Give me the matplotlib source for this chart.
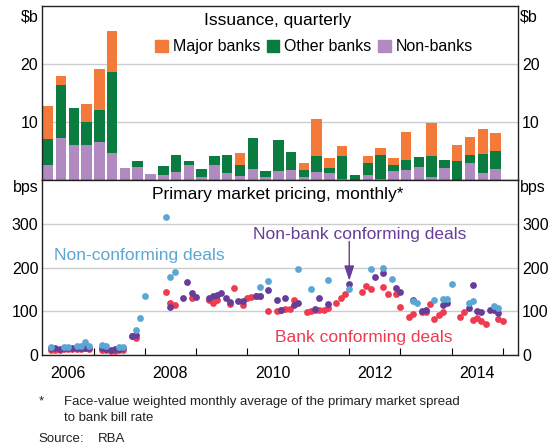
import numpy as np
import matplotlib
matplotlib.use("Agg")
from matplotlib import pyplot as plt
from matplotlib.patches import Patch

plt.rcParams["font.family"] = ["Liberation Sans", "DejaVu Sans"]

# Issuance, quarterly ($b), Q1 2006 .. Q4 2014
quarters = np.arange(36)
non_banks = [2.7, 7.2, 6.0, 6.0, 6.5, 4.7, 2.2, 2.3, 1.1, 1.0, 1.4, 2.6,
             0.6, 2.6, 1.2, 0.8, 2.0, 0.5, 1.6, 1.7, 0.5, 1.4, 1.2, 0.3,
             0.1, 1.0, 0.3, 1.65, 1.7, 2.3, 0.5, 2.1, 0.1, 3.0, 1.2, 1.9]
other_banks = [4.35, 9.1, 6.4, 4.0, 5.5, 13.9, 0, 1.0, 0, 1.5, 3.0, 0.8,
               1.3, 1.5, 3.1, 1.9, 5.2, 1.1, 5.4, 3.1, 1.2, 2.7, 1.0, 3.9,
               0.8, 1.9, 4.1, 0.95, 1.8, 1.7, 3.7, 1.4, 3.3, 1.3, 3.4, 3.2]
major_banks = [5.7, 1.6, 0, 3.2, 7.2, 7.1, 0, 0, 0, 0, 0, 0,
               0, 0, 0, 2.0, 0, 0, 0, 0, 1.2, 6.4, 1.6, 1.7,
               0, 1.3, 1.1, 1.2, 4.8, 0, 5.6, 0, 2.7, 3.1, 4.15, 3.0]

# Primary market pricing, monthly (bps)
nonconf_dates = ["2006-02", "2006-05", "2006-06", "2006-08", "2006-09", "2006-10",
                 "2006-11", "2007-02", "2007-03", "2007-06", "2007-07", "2007-10",
                 "2007-11", "2007-12", "2008-05", "2008-06", "2008-07", "2010-03",
                 "2010-05", "2010-12", "2011-03", "2011-07", "2011-12", "2012-05",
                 "2012-08", "2012-10", "2013-03", "2013-04", "2013-08", "2013-10",
                 "2013-11", "2013-12", "2014-04", "2014-05", "2014-10", "2014-11"]
nonconf_bps = [18, 19, 19, 21, 21, 30, 21, 23, 20, 18, 18, 57,
               84, 136, 316, 179, 190, 155, 169, 197, 151, 172, 150, 197,
               200, 174, 124, 118, 126, 128, 128, 162, 120, 124, 112, 107]

nonbank_dates = ["2006-02", "2006-03", "2006-04", "2006-05", "2006-06", "2006-07",
                 "2006-08", "2006-09", "2006-10", "2006-11", "2007-02", "2007-03",
                 "2007-04", "2007-05", "2007-06", "2007-07", "2007-09", "2007-10",
                 "2008-06", "2008-09", "2008-10", "2008-11", "2008-12", "2009-03",
                 "2009-04", "2009-05", "2009-06", "2009-07", "2009-08", "2009-10",
                 "2009-11", "2010-02", "2010-03", "2010-05", "2010-07", "2010-08",
                 "2010-09", "2010-11", "2010-12", "2011-04", "2011-05", "2011-07",
                 "2011-12", "2012-06", "2012-08", "2012-11", "2012-12", "2013-03",
                 "2013-05", "2013-06", "2013-10", "2013-11", "2014-04", "2014-05",
                 "2014-06", "2014-07", "2014-09", "2014-10", "2014-11"]
nonbank_bps = [15, 15, 14, 15, 16, 16, 17, 17, 17, 16, 15, 14,
               12, 13, 14, 15, 44, 45, 109, 130, 168, 142, 133, 131,
               135, 137, 143, 130, 122, 124, 124, 136, 136, 149, 125, 103,
               130, 114, 119, 105, 131, 116, 163, 178, 188, 154, 144, 126,
               101, 104, 114, 118, 108, 160, 101, 98, 104, 104, 95]

bank_dates = ["2006-02", "2006-03", "2006-04", "2006-05", "2006-06", "2006-07",
              "2006-08", "2006-09", "2006-10", "2006-11", "2007-02", "2007-03",
              "2007-04", "2007-05", "2007-06", "2007-07", "2007-09", "2007-10",
              "2008-05", "2008-06", "2008-07", "2008-11", "2009-03", "2009-04",
              "2009-05", "2009-08", "2009-09", "2009-11", "2009-12", "2010-01",
              "2010-02", "2010-03", "2010-05", "2010-07", "2010-08", "2010-09",
              "2010-10", "2010-11", "2011-02", "2011-03", "2011-04", "2011-05",
              "2011-06", "2011-07", "2011-09", "2011-10", "2011-11", "2012-03",
              "2012-04", "2012-05", "2012-08", "2012-09", "2012-11", "2012-12",
              "2013-02", "2013-03", "2013-05", "2013-06", "2013-07", "2013-08",
              "2013-09", "2013-10", "2014-02", "2014-03", "2014-05", "2014-06",
              "2014-07", "2014-08", "2014-11", "2014-12"]
bank_bps = [11, 12, 12, 13, 13, 14, 14, 14, 15, 13, 11, 11,
            10, 10, 12, 12, 43, 40, 145, 120, 114, 130, 127, 118,
            127, 117, 154, 114, 131, 133, 134, 136, 101, 101, 104, 105,
            106, 126, 98, 101, 103, 103, 103, 108, 120, 130, 140, 144,
            158, 152, 155, 140, 139, 109, 86, 94, 98, 98, 116, 82,
            92, 99, 86, 99, 79, 85, 78, 70, 82, 78]

c_major = "#f47a3a"
c_other = "#0b7c40"
c_nonbank = "#b08ac0"
c_blue = "#5ba6d3"
c_purple = "#673d98"
c_red = "#ef3b50"
c_grid = "#cccccc"


def to_year(dates):
    # points sit at the end of each month
    return np.array([int(d[:4]) + int(d[5:]) / 12.0 for d in dates])


fig = plt.figure(figsize=(5.59, 4.48), dpi=100)
ax1 = fig.add_axes([0.076, 0.5975, 0.8506, 0.3897])
ax2 = fig.add_axes([0.076, 0.2076, 0.8506, 0.3900])

xmin, xmax = 2006.0, 2015.3

# top panel: stacked bars
left = 2006.01 + 0.25 * quarters
nb = np.array(non_banks)
ob = np.array(other_banks)
mb = np.array(major_banks)
ax1.bar(left, nb, width=0.205, align="edge", color=c_nonbank, zorder=2)
ax1.bar(left, ob, width=0.205, align="edge", bottom=nb, color=c_other, zorder=2)
ax1.bar(left, mb, width=0.205, align="edge", bottom=nb + ob, color=c_major, zorder=2)
ax1.set_xlim(xmin, xmax)
ax1.set_ylim(0, 30)
ax1.set_yticks([10, 20])
ax1.set_xticks([])
ax1.text(2010.6, 27.4, "Issuance, quarterly", ha="center", va="center", fontsize=12.5)
handles = [Patch(color=c_major), Patch(color=c_other), Patch(color=c_nonbank)]
ax1.legend(handles, ["Major banks", "Other banks", "Non-banks"], ncol=3,
           loc="center", bbox_to_anchor=(0.571, 0.765), frameon=False,
           fontsize=11.5, handlelength=0.8, handleheight=0.8,
           handletextpad=0.3, columnspacing=0.4, borderpad=0)

# bottom panel: monthly pricing dots
ax2.scatter(to_year(bank_dates), bank_bps, s=24, color=c_red, linewidths=0, zorder=3)
ax2.scatter(to_year(nonbank_dates), nonbank_bps, s=24, color=c_purple, linewidths=0, zorder=4)
ax2.scatter(to_year(nonconf_dates), nonconf_bps, s=24, color=c_blue, linewidths=0, zorder=5)
ax2.set_xlim(xmin, xmax)
ax2.set_ylim(0, 400)
ax2.set_yticks([0, 100, 200, 300])
ax2.text(2010.6, 367, "Primary market pricing, monthly*", ha="center", va="center",
         fontsize=12.5)
ax2.text(2007.89, 227, "Non-conforming deals", color=c_blue, ha="center",
         va="center", fontsize=12.5)
ax2.text(2012.2, 277, "Non-bank conforming deals", color=c_purple, ha="center",
         va="center", fontsize=12.5)
ax2.text(2012.29, 41, "Bank conforming deals", color=c_red, ha="center",
         va="center", fontsize=12.5)
ax2.annotate("", xy=(2012.0, 170), xytext=(2012.0, 260),
             arrowprops=dict(arrowstyle="-|>,head_length=0.6,head_width=0.2",
                             color=c_purple, lw=1, mutation_scale=15,
                             shrinkA=0, shrinkB=0))

# year ticks at boundaries, labels in the middle of the year
ax2.set_xticks(np.arange(2007, 2016))
ax2.set_xticklabels([])
ax2.set_xticks(np.arange(2006.5, 2015, 2), minor=True)
ax2.set_xticklabels([str(y) for y in range(2006, 2015, 2)], minor=True)
ax2.tick_params(axis="x", which="major", direction="in", length=5, width=0.8)
ax2.tick_params(axis="x", which="minor", length=0, pad=8, labelsize=11.5)

for ax, unit, uy in [(ax1, r"\$b", 0.935), (ax2, "bps", 0.956)]:
    ax.yaxis.grid(True, color=c_grid, lw=1)
    ax.set_axisbelow(True)
    ax.tick_params(axis="y", length=0, pad=3, labelsize=11.5,
                   labelleft=True, labelright=True)
    for sp in ax.spines.values():
        sp.set_linewidth(1.0)
        sp.set_color("#222222")
    ax.text(-0.008, uy, unit, transform=ax.transAxes, ha="right", va="center",
            fontsize=11.5)
    ax.text(1.005, uy, unit, transform=ax.transAxes, ha="left", va="center",
            fontsize=11.5)

# footnotes
fig.text(0.070, 0.1034, "*", fontsize=9.5, va="center", color="#222222")
fig.text(0.1145, 0.1034, "Face-value weighted monthly average of the primary market spread",
         fontsize=9.5, va="center", color="#222222")
fig.text(0.1145, 0.0663, "to bank bill rate", fontsize=9.5, va="center", color="#222222")
fig.text(0.068, 0.0194, "Source:", fontsize=9.5, va="center", color="#222222")
fig.text(0.1753, 0.0194, "RBA", fontsize=9.5, va="center", color="#222222")

fig.savefig("out.png", dpi=100)
